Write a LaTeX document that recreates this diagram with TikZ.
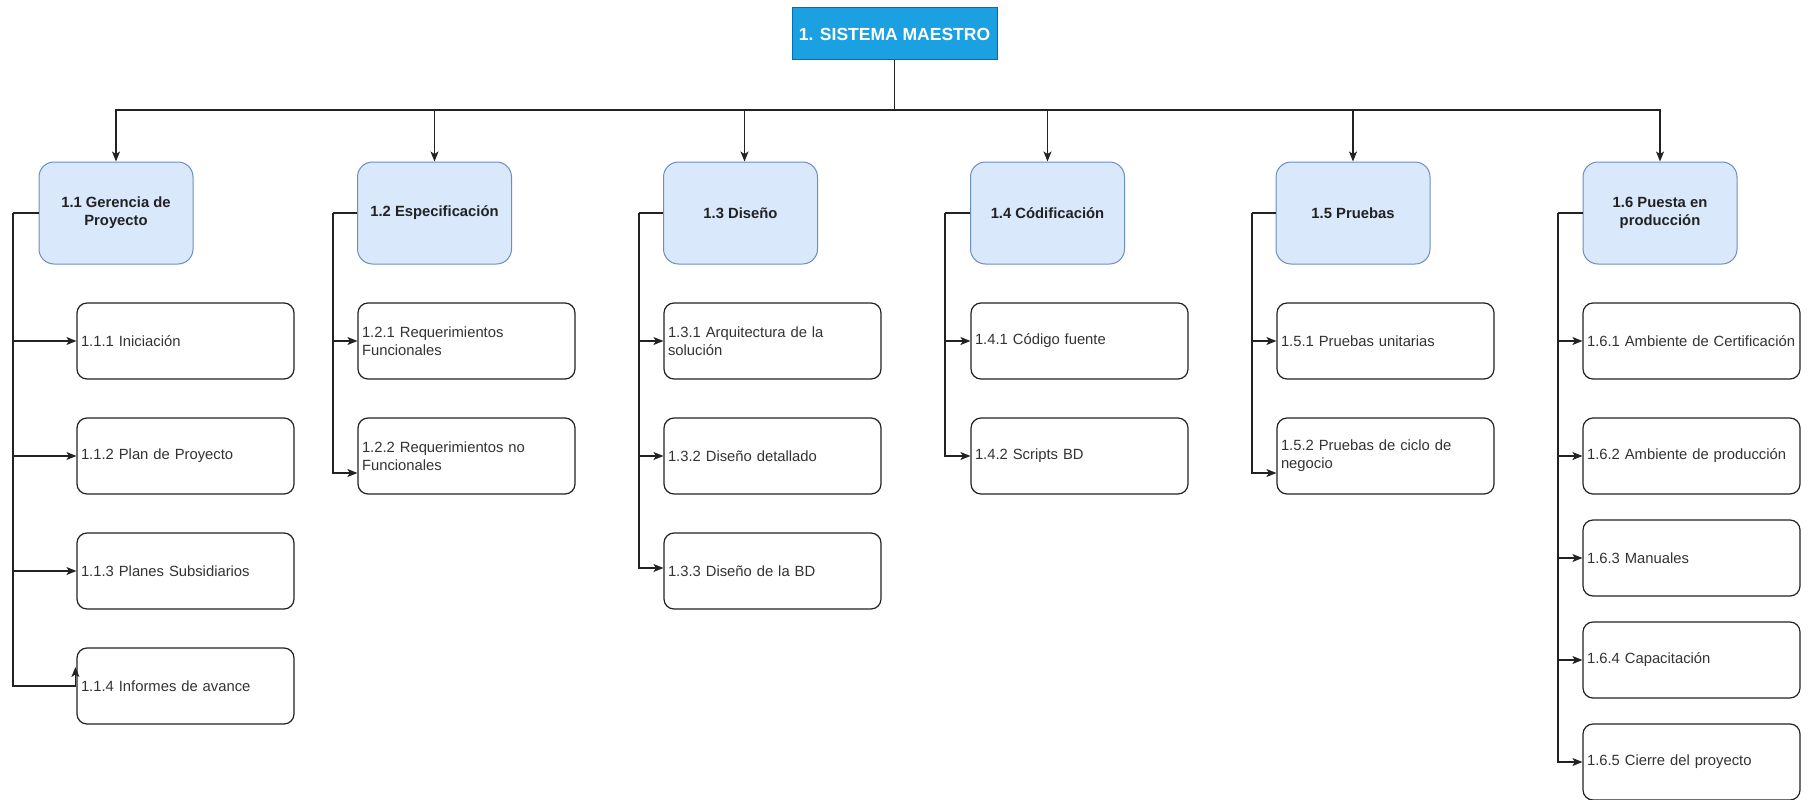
\documentclass[tikz,border=0pt]{standalone}
\usepackage{fontspec}
\setmainfont{Liberation Sans}
\usetikzlibrary{arrows.meta,calc}
\definecolor{rootfill}{HTML}{1BA1E2}
\definecolor{rootline}{HTML}{006EAF}
\definecolor{lvfill}{HTML}{DAE8FC}
\definecolor{lvline}{HTML}{6C8EBF}
\definecolor{ink}{HTML}{222222}
\definecolor{txt}{HTML}{333333}
\begin{document}
\begin{tikzpicture}[x=1pt,y=-1pt,
  rootbox/.style={rectangle, fill=rootfill, draw=rootline, line width=1pt, minimum width=205pt, minimum height=52pt, text=white, font=\fontsize{17.5}{20}\selectfont\bfseries, inner sep=0pt},
  phasebox/.style={rectangle, rounded corners=15pt, fill=lvfill, draw=lvline, line width=1pt, minimum width=154pt, minimum height=102pt, align=center, text=ink, font=\fontsize{14.8}{18}\selectfont\bfseries, inner sep=2pt},
  taskbox/.style={rectangle, rounded corners=10pt, draw=ink, fill=white, line width=1.2pt, text width=209pt, inner xsep=4pt, inner ysep=0pt, minimum height=76pt, align=left, text=txt, font=\fontsize{14.8}{18}\selectfont},
  link/.style={draw=ink, line width=1.2pt},
  arr/.style={link, -{Stealth[length=10pt,width=8pt,inset=2.5pt]}}
]
\useasboundingbox (0,0) rectangle (1809,800);

% root
\node[rootbox] (root) at (894.5,34) {1. SISTEMA MAESTRO};

% phases
\node[phasebox] (p1) at (116,213) {1.1 Gerencia de\\Proyecto};
\node[phasebox] (p2) at (434.5,213) {1.2 Especificación};
\node[phasebox] (p3) at (740.5,213) {1.3 Diseño};
\node[phasebox] (p4) at (1047.5,213) {1.4 Códificación};
\node[phasebox] (p5) at (1353,213) {1.5 Pruebas};
\node[phasebox] (p6) at (1660,213) {1.6 Puesta en\\producción};

% tasks
\node[taskbox] (t11) at (185.5,341) {1.1.1 Iniciación};
\node[taskbox] (t12) at (185.5,456) {1.1.2 Plan de Proyecto};
\node[taskbox] (t13) at (185.5,571) {1.1.3 Planes Subsidiarios};
\node[taskbox] (t14) at (185.5,686) {1.1.4 Informes de avance};

\node[taskbox] (t21) at (466.5,341) {1.2.1 Requerimientos\\Funcionales};
\node[taskbox] (t22) at (466.5,456) {1.2.2 Requerimientos no\\Funcionales};

\node[taskbox] (t31) at (772.5,341) {1.3.1 Arquitectura de la\\solución};
\node[taskbox] (t32) at (772.5,456) {1.3.2 Diseño detallado};
\node[taskbox] (t33) at (772.5,571) {1.3.3 Diseño de la BD};

\node[taskbox] (t41) at (1079.5,341) {1.4.1 Código fuente};
\node[taskbox] (t42) at (1079.5,456) {1.4.2 Scripts BD};

\node[taskbox] (t51) at (1385.5,341) {1.5.1 Pruebas unitarias};
\node[taskbox] (t52) at (1385.5,456) {1.5.2 Pruebas de ciclo de\\negocio};

\node[taskbox] (t61) at (1691.5,341) {1.6.1 Ambiente de Certificación};
\node[taskbox] (t62) at (1691.5,456) {1.6.2 Ambiente de producción};
\node[taskbox] (t63) at (1691.5,558) {1.6.3 Manuales};
\node[taskbox] (t64) at (1691.5,660) {1.6.4 Capacitación};
\node[taskbox] (t65) at (1691.5,762) {1.6.5 Cierre del proyecto};

% root to phases
\coordinate (bus) at (894.5,110);
\draw[link] (root.south) -- (bus);
\draw[arr] (bus) -| (p1.north);
\draw[arr] (bus) -| (p2.north);
\draw[arr] (bus) -| ($(p3.north)+(4,0)$);
\draw[arr] (bus) -| (p4.north);
\draw[arr] (bus) -| (p5.north);
\draw[arr] (bus) -| (p6.north);

% trunks
\coordinate (k1) at (13,213);
\coordinate (k2) at (333,213);
\coordinate (k3) at (639,213);
\coordinate (k4) at (945,213);
\coordinate (k5) at (1252,213);
\coordinate (k6) at (1558,213);
\draw[link] (p1.west) -- (k1);
\draw[link] (p2.west) -- (k2);
\draw[link] (p3.west) -- (k3);
\draw[link] (p4.west) -- (k4);
\draw[link] (p5.west) -- (k5);
\draw[link] (p6.west) -- (k6);

\draw[arr] (k1) |- (t11.west);
\draw[arr] (k1) |- (t12.west);
\draw[arr] (k1) |- (t13.west);
\coordinate (g114) at ($(t14.west)+(-1,-19)$);
\draw[arr] (k1) |- ($(t14.west)+(-1,0)$) -- (g114);

\draw[arr] (k2) |- (t21.west);
\draw[arr] (k2) |- ($(t22.west)+(0,17)$);

\draw[arr] (k3) |- (t31.west);
\draw[arr] (k3) |- (t32.west);
\draw[arr] (k3) |- ($(t33.west)+(0,-3)$);

\draw[arr] (k4) |- (t41.west);
\draw[arr] (k4) |- (t42.west);

\draw[arr] (k5) |- (t51.west);
\draw[arr] (k5) |- ($(t52.west)+(0,17)$);

\draw[arr] (k6) |- (t61.west);
\draw[arr] (k6) |- (t62.west);
\draw[arr] (k6) |- (t63.west);
\draw[arr] (k6) |- (t64.west);
\draw[arr] (k6) |- (t65.west);
\end{tikzpicture}
\end{document}
